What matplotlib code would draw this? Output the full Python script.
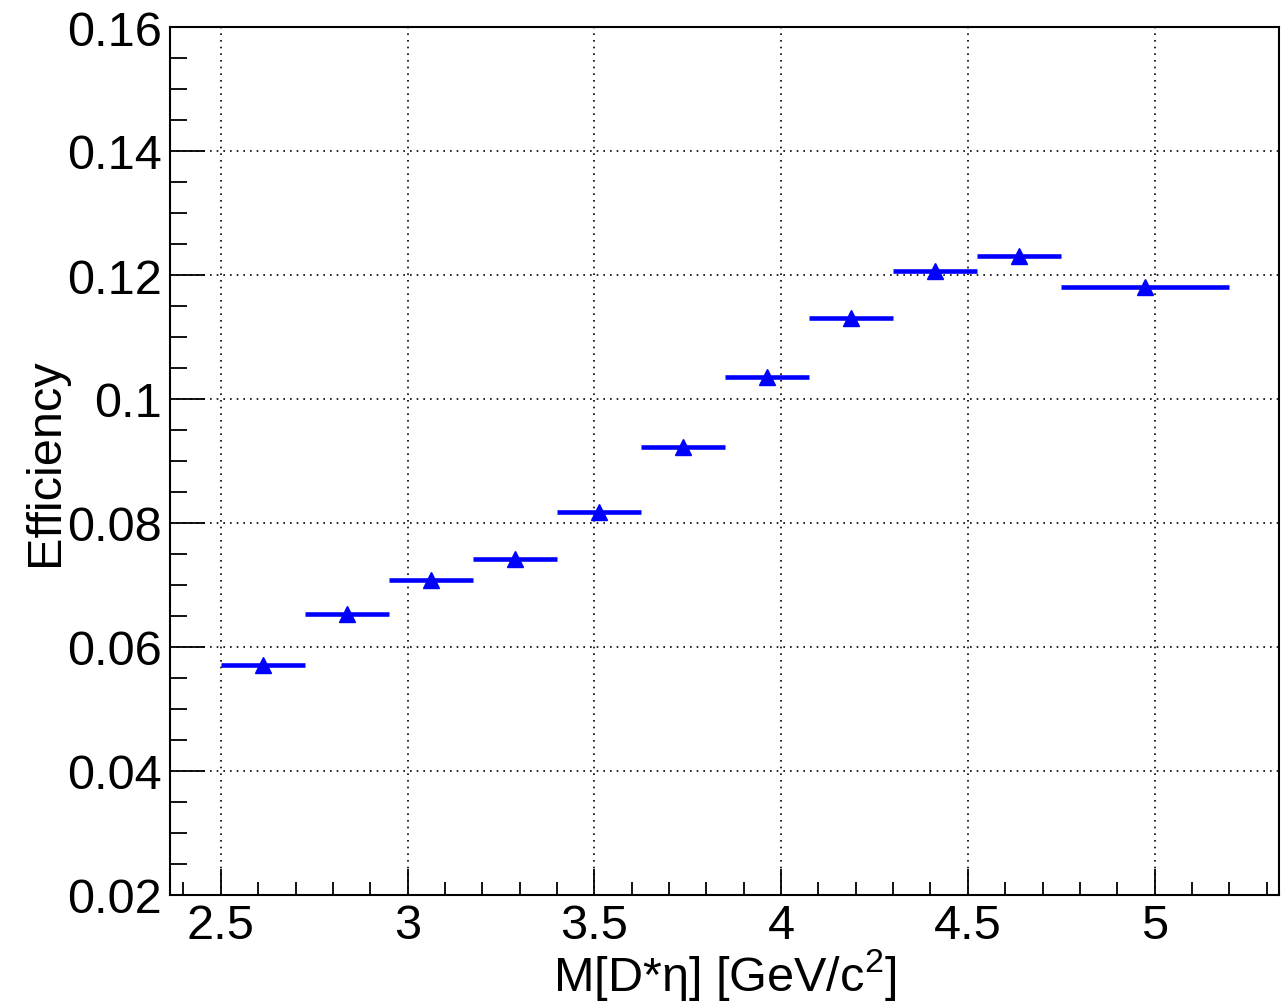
import numpy as np
import matplotlib
matplotlib.use("Agg")
import matplotlib.pyplot as plt
from matplotlib.ticker import MultipleLocator

plt.rcParams['font.family'] = ['Liberation Sans', 'DejaVu Sans']
plt.rcParams['mathtext.fontset'] = 'custom'
plt.rcParams['mathtext.rm'] = 'Liberation Sans'
plt.rcParams['mathtext.it'] = 'Liberation Sans:italic'

# bin edges in M[D* eta] and efficiency per bin
bin_lo = [2.5, 2.725, 2.95, 3.175, 3.4, 3.625, 3.85, 4.075, 4.3, 4.525, 4.75]
bin_hi = [2.725, 2.95, 3.175, 3.4, 3.625, 3.85, 4.075, 4.3, 4.525, 4.75, 5.2]
eff = [0.0571, 0.0654, 0.0708, 0.0742, 0.0818, 0.0923,
       0.1035, 0.1130, 0.1207, 0.1230, 0.1180]

lo = np.array(bin_lo)
hi = np.array(bin_hi)
cen = 0.5 * (lo + hi)
y = np.array(eff)

fig = plt.figure(figsize=(12.86, 10.03), dpi=100)
ax = fig.add_axes([170/1286, 1 - 896/1003, (1279-170)/1286, (896-28)/1003])

ax.errorbar(cen, y, xerr=[cen - lo, hi - cen], fmt='^', color='#0000ff',
            ecolor='#0000ff', elinewidth=3.3, markersize=11, capsize=0,
            zorder=3)

ax.set_xlim(2.364, 5.333)
ax.set_ylim(0.02, 0.16)
ax.xaxis.set_minor_locator(MultipleLocator(0.1))
ax.yaxis.set_minor_locator(MultipleLocator(0.005))
ax.set_xticks([2.5, 3, 3.5, 4, 4.5, 5])
ax.set_xticklabels(['2.5', '3', '3.5', '4', '4.5', '5'])
ax.set_yticks([0.02, 0.04, 0.06, 0.08, 0.1, 0.12, 0.14, 0.16])
ax.set_yticklabels(['0.02', '0.04', '0.06', '0.08', '0.1', '0.12', '0.14', '0.16'])

ax.tick_params(axis='both', which='both', direction='in', labelsize=35,
               width=1.3, top=False, right=False)
ax.tick_params(axis='x', which='major', length=19, pad=6)
ax.tick_params(axis='x', which='minor', length=9.5)
ax.tick_params(axis='y', which='major', length=25, pad=6)
ax.tick_params(axis='y', which='minor', length=12.5)

ax.grid(True, which='major', color='black', linestyle=(0, (1, 3)), linewidth=1.2)
for s in ax.spines.values():
    s.set_linewidth(1.5)

ax.set_xlabel('M[D*η] [GeV/c$^2$]', fontsize=35, labelpad=-2)
ax.set_ylabel('Efficiency', fontsize=35)
ax.yaxis.set_label_coords(-0.092, 0.5)

fig.savefig('out.png', dpi=100)
